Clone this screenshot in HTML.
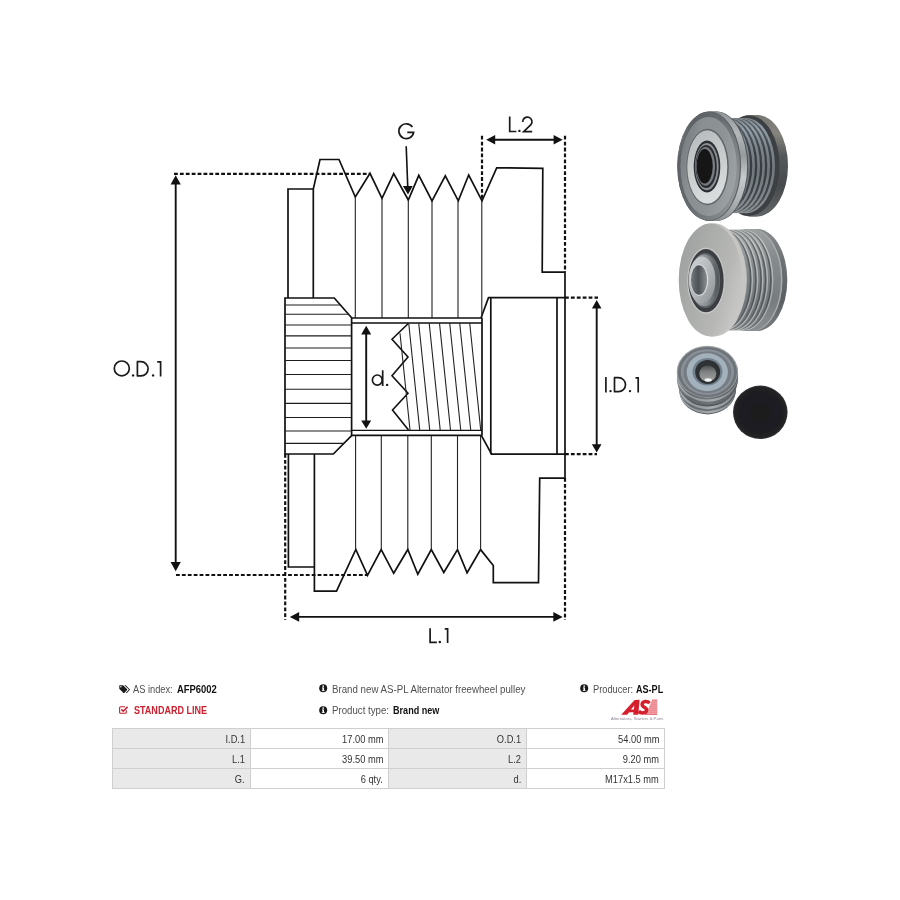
<!DOCTYPE html>
<html><head><meta charset="utf-8">
<style>
html,body{margin:0;padding:0;background:#fff;}
body{width:900px;height:900px;position:relative;overflow:hidden;font-family:"Liberation Sans",sans-serif;}
#draw{position:absolute;left:0;top:0;}
.t{position:absolute;white-space:nowrap;font-size:10px;line-height:12px;color:#3a3a3a;}
.t b{color:#111;font-weight:bold;}
table{position:absolute;left:112px;top:728px;border-collapse:collapse;font-size:10px;color:#333;}
td{border:1px solid #cfcfcf;height:17px;padding:2px 5px 0 0;text-align:right;width:132px;box-sizing:content-box;}
td.l{background:#e9e9e9;}
td span{display:inline-block;transform:scaleX(0.93);transform-origin:100% 50%;}
</style></head><body>
<svg id="draw" width="900" height="900" viewBox="0 0 900 900">
<!--DRAWING-->
<g fill="none" stroke="#111" stroke-width="1.7" stroke-linejoin="miter" stroke-linecap="butt">
<!-- outer silhouette -->
<path d="M313.3,298 L313.3,189 L320,159.5 L339,159.5 L355.3,197 L370,173.3 L382,198.3 L393.7,173.7 L408.3,200 L418.8,175.3 L432,200.8 L445.3,175.8 L458.3,200.8 L468.7,175 L482,200.8 L496.7,167.8 L542.8,168.3 L542.2,272.2 L565,272.2 L565,478.2 L539.7,478.2 L538.5,582.6 L493.3,582.6 L493.3,565.5 L480.6,549.6 L467.1,572.8 L457.5,549.6 L443.8,572.5 L431.3,549.5 L417.8,574.2 L407.8,549.5 L393.7,573.3 L381.2,549.5 L367.5,575.3 L355.8,549.5 L336.5,591.2 L314.4,591.2 L314.4,454"/>
<!-- left disc -->
<path d="M288,298 L288,189 L313.3,189"/>
<path d="M288.4,454 L288.4,567 L314.4,567"/>
<!-- hub -->
<path d="M285,298 L334.3,298 L351.6,317.7 L351.6,435.6 L333.3,454 L285,454 Z"/>
<!-- bore -->
<path d="M351.6,318 L481,318 L488.5,297.7 L565,297.7"/>
<path d="M351.6,435.4 L481.3,435.4 L491.6,454.2 L565,454.2"/>
<path d="M482,318 L482,435.4"/>
<path d="M490.8,297.7 L490.8,454.2"/>
<path d="M557,297.7 L557,454.2"/>
</g>
<g fill="none" stroke="#111" stroke-width="1.3">
<path d="M351.6,323 L482,323 M351.6,430.4 L482,430.4"/>
<!-- hub lines -->
<path stroke-width="1.15" stroke="#1c1c1c" d="M285,305 H340.4 M285,314.2 H348.5 M285,325 H351.6 M285,335.8 H351.6 M285,348 H351.6 M285,360.5 H351.6 M285,374.5 H351.6 M285,389.2 H351.6 M285,403.3 H351.6 M285,417.5 H351.6 M285,431 H351.6 M285,443.3 H344"/>
<!-- thread zigzag -->
<path stroke-width="1.6" d="M408.3,323.5 L392,339.2 L408,357 L392,375.8 L408,393.3 L392.5,410 L408.5,430"/>
</g>
<g fill="none" stroke="#222" stroke-width="1.1">
<!-- groove thin lines -->
<path d="M355.3,197 V318 M382,198.3 V318 M408.3,200 V318 M432,200.8 V318 M458,200.8 V318 M481.8,200.8 V318"/>
<path d="M355.6,435.4 V549.5 M381.3,435.4 V549.5 M407.8,435.4 V549.5 M431.3,435.4 V549.5 M457.5,435.4 V549.5 M480.6,435.4 V549.5"/>
<!-- thread slanted lines -->
<path d="M400,333.3 L410,430 M408.7,323 L419.7,430 M418.7,323 L429.7,430 M429.2,323 L440.2,430 M439.5,323 L450.5,430 M449.7,323 L460.7,430 M459.7,323 L470.7,430 M469.7,323 L480.7,430"/>
</g>
<!-- dimension lines -->
<g fill="none" stroke="#111" stroke-width="2.2" stroke-dasharray="3.8 2.1">
<path d="M174,173.8 H370"/>
<path d="M176,575 H367.5"/>
<path d="M285.2,454 V620"/>
<path d="M565,478 V620"/>
<path d="M482,135.8 V200"/>
<path d="M565,135.8 V272"/>
<path d="M565,297.7 H598"/>
<path d="M565,454.2 H597"/>
</g>
<g fill="none" stroke="#111" stroke-width="1.9">
<path d="M175.7,180 V566"/>
<path d="M596.7,304 V448"/>
<path d="M366.2,330 V424"/>
<path d="M292,616.9 H558"/>
<path d="M490,139.7 H558"/>
<path stroke-width="1.6" d="M406.2,146.3 L407.8,188"/>
</g>
<g fill="#111" stroke="none">
<path d="M175.7,175.3 L170.6,184.5 H180.8 Z"/>
<path d="M175.7,571.3 L170.6,562 H180.8 Z"/>
<path d="M596.7,300 L591.9,308.6 H601.5 Z"/>
<path d="M596.7,452.5 L591.9,444.2 H601.5 Z"/>
<path d="M366.2,325.8 L361.2,334.4 H371.2 Z"/>
<path d="M366.2,428.8 L361.2,420.4 H371.2 Z"/>
<path d="M289.8,616.9 L299.2,612 V621.8 Z"/>
<path d="M562.7,616.9 L553.3,612 V621.8 Z"/>
<path d="M486.2,139.7 L495.2,135 V144.4 Z"/>
<path d="M562.6,139.7 L553.6,135 V144.4 Z"/>
<path d="M408,194.4 L402.9,185.9 H412.7 Z"/>
</g>
<g fill="none" stroke="#1a1a1a" stroke-width="1.7" stroke-linecap="butt" stroke-linejoin="miter">
<!-- O.D.1 -->
<ellipse cx="121.8" cy="368.4" rx="7.5" ry="7.4"/>
<path d="M137.4,361.7 V375.9 M136.7,361.7 H141 A7.1,7.1 0 0 1 141,375.9 H136.7"/>
<path d="M157.2,361.9 H160.6 V376.6"/>
<!-- I.D.1 -->
<path d="M605.9,377 V392.4"/>
<path d="M614.5,377.7 V391.7 M613.8,377.7 H618.5 A7,7 0 0 1 618.5,391.7 H613.8"/>
<path d="M635.5,377.8 H638.2 V392.4"/>
<!-- L.1 -->
<path d="M430.1,628.2 V642.3 H436.9"/>
<path d="M444.7,628.9 H447.6 V643"/>
<!-- L.2 -->
<path d="M509.7,116.6 V131.5 H516.4"/>
<path d="M522.7,122 A4.65,4.65 0 1 1 530.9,124.7 L523.7,131.6 H532.2"/>
<!-- G -->
<path d="M412.4,127 A7.4,7.4 0 1 0 413.6,132.3 H407.3"/>
<!-- d. -->
<ellipse cx="377.3" cy="380.1" rx="4.9" ry="5.1"/>
<path d="M382.7,370.3 V386"/>
</g>
<g fill="#1a1a1a" stroke="none">
<circle cx="133.1" cy="375.4" r="1.2"/><circle cx="153.1" cy="375.4" r="1.2"/>
<circle cx="610.5" cy="391.1" r="1.2"/><circle cx="630" cy="391.1" r="1.2"/>
<circle cx="439.8" cy="641.9" r="1.25"/>
<circle cx="519.4" cy="130.9" r="1.2"/>
<circle cx="387.1" cy="384.9" r="1.2"/>
</g>
<!--LABELS-->
<!--PHOTOS_START-->
<defs>
<linearGradient id="v1" x1="0" y1="0" x2="0" y2="1"><stop offset="0" stop-color="#4b5056"/><stop offset="0.15" stop-color="#50575d"/><stop offset="0.35" stop-color="#3c4145"/><stop offset="0.6" stop-color="#373b3f"/><stop offset="0.85" stop-color="#40454a"/><stop offset="1" stop-color="#555a5e"/></linearGradient>
<linearGradient id="v1l" x1="0" y1="0" x2="0" y2="1"><stop offset="0" stop-color="#7f868b"/><stop offset="0.12" stop-color="#93a0a9"/><stop offset="0.3" stop-color="#7e878e"/><stop offset="0.55" stop-color="#70777d"/><stop offset="0.8" stop-color="#7d8489"/><stop offset="1" stop-color="#8d9296"/></linearGradient>
<linearGradient id="rear1" x1="0" y1="0" x2="0" y2="1"><stop offset="0" stop-color="#777774"/><stop offset="0.18" stop-color="#85837d"/><stop offset="0.4" stop-color="#55585a"/><stop offset="0.7" stop-color="#474a4d"/><stop offset="1" stop-color="#636668"/></linearGradient>
<linearGradient id="ff1" x1="0" y1="0.2" x2="1" y2="0.8"><stop offset="0" stop-color="#8e9295"/><stop offset="0.12" stop-color="#5d6165"/><stop offset="0.45" stop-color="#666b6f"/><stop offset="0.8" stop-color="#7f8487"/><stop offset="1" stop-color="#9a9ea1"/></linearGradient>
<linearGradient id="fb1" x1="0" y1="0" x2="0" y2="1"><stop offset="0" stop-color="#8f9497"/><stop offset="0.2" stop-color="#b4b8bb"/><stop offset="0.4" stop-color="#959a9d"/><stop offset="0.6" stop-color="#c6cacc"/><stop offset="0.8" stop-color="#b0b5b8"/><stop offset="1" stop-color="#8c9093"/></linearGradient>
<linearGradient id="cone1" x1="0" y1="0.3" x2="1" y2="0.7"><stop offset="0" stop-color="#777c80"/><stop offset="0.25" stop-color="#8a8f92"/><stop offset="0.6" stop-color="#8d9295"/><stop offset="1" stop-color="#9ea3a6"/></linearGradient>
<linearGradient id="ring1" x1="0" y1="0" x2="0.3" y2="1"><stop offset="0" stop-color="#b6babc"/><stop offset="0.5" stop-color="#c7cacb"/><stop offset="1" stop-color="#d9dcdc"/></linearGradient>
<linearGradient id="v2" x1="0" y1="0" x2="0" y2="1"><stop offset="0" stop-color="#9a9e9f"/><stop offset="0.12" stop-color="#a3a7a8"/><stop offset="0.35" stop-color="#858a8c"/><stop offset="0.6" stop-color="#767b7e"/><stop offset="0.85" stop-color="#70757a"/><stop offset="1" stop-color="#8a8e90"/></linearGradient>
<linearGradient id="v2d" x1="0" y1="0" x2="0" y2="1"><stop offset="0" stop-color="#75797b"/><stop offset="0.3" stop-color="#595e61"/><stop offset="0.7" stop-color="#4f5457"/><stop offset="1" stop-color="#686c6f"/></linearGradient>
<linearGradient id="rear2" x1="0" y1="0" x2="0" y2="1"><stop offset="0" stop-color="#8b8e8f"/><stop offset="0.3" stop-color="#6e7275"/><stop offset="0.7" stop-color="#5b5f63"/><stop offset="1" stop-color="#7b7e80"/></linearGradient>
<linearGradient id="rear2b" x1="0" y1="0" x2="0" y2="1"><stop offset="0" stop-color="#9da0a1"/><stop offset="0.3" stop-color="#858a8c"/><stop offset="0.7" stop-color="#777c7f"/><stop offset="1" stop-color="#8a8e90"/></linearGradient>
<linearGradient id="v2l" x1="0" y1="0" x2="0" y2="1"><stop offset="0" stop-color="#b5b8b8"/><stop offset="0.15" stop-color="#c4c6c5"/><stop offset="0.45" stop-color="#b4b8b9"/><stop offset="0.7" stop-color="#a4a8aa"/><stop offset="1" stop-color="#b3b6b6"/></linearGradient>
<linearGradient id="face2" x1="0" y1="0" x2="1" y2="0.5"><stop offset="0" stop-color="#9a9d9c"/><stop offset="0.45" stop-color="#abadab"/><stop offset="0.8" stop-color="#b7b8b6"/><stop offset="1" stop-color="#c4c5c2"/></linearGradient>
<linearGradient id="hub2" x1="0" y1="0" x2="1" y2="1"><stop offset="0" stop-color="#d2d5d6"/><stop offset="0.5" stop-color="#b4b8bb"/><stop offset="1" stop-color="#8a8f93"/></linearGradient>
<linearGradient id="hubs2" x1="0" y1="0" x2="1" y2="0"><stop offset="0" stop-color="#b0b4b7"/><stop offset="0.6" stop-color="#8a8f93"/><stop offset="1" stop-color="#4e5357"/></linearGradient>
<linearGradient id="hole2" x1="0" y1="0" x2="1" y2="0"><stop offset="0" stop-color="#767b7f"/><stop offset="0.45" stop-color="#4c5155"/><stop offset="1" stop-color="#8a8f93"/></linearGradient>
<linearGradient id="b3" x1="0" y1="0" x2="1" y2="0"><stop offset="0" stop-color="#868b8f"/><stop offset="0.2" stop-color="#5f6468"/><stop offset="0.55" stop-color="#70757a"/><stop offset="1" stop-color="#55595d"/></linearGradient>
<linearGradient id="b3l" x1="0" y1="0" x2="1" y2="0"><stop offset="0" stop-color="#b4b8bb"/><stop offset="0.25" stop-color="#8f9499"/><stop offset="0.6" stop-color="#a9aeb2"/><stop offset="1" stop-color="#7b8084"/></linearGradient>
<linearGradient id="hole3" x1="0" y1="0" x2="0" y2="1"><stop offset="0" stop-color="#4c4f51"/><stop offset="0.4" stop-color="#7f8282"/><stop offset="1" stop-color="#a3a5a4"/></linearGradient>
<radialGradient id="cap" cx="0.5" cy="0.5" r="0.5"><stop offset="0" stop-color="#1b1b1d"/><stop offset="0.93" stop-color="#202023"/><stop offset="1" stop-color="#38383c"/></radialGradient>
<filter id="soft" x="-5%" y="-5%" width="110%" height="110%"><feGaussianBlur stdDeviation="0.45"/></filter>
</defs>
<g id="ph1" filter="url(#soft)">
<ellipse cx="757" cy="165.7" rx="31" ry="50.7" fill="url(#rear1)" />
<ellipse cx="755.5" cy="165.7" rx="31" ry="50.7" fill="url(#rear1)" />
<ellipse cx="754" cy="165.7" rx="31" ry="50.7" fill="url(#rear1)" />
<ellipse cx="752.5" cy="165.7" rx="31" ry="50.7" fill="url(#rear1)" />
<ellipse cx="751" cy="165.7" rx="31" ry="50.7" fill="url(#rear1)" />
<ellipse cx="749.5" cy="165.7" rx="31" ry="50.7" fill="url(#rear1)" />
<ellipse cx="749" cy="165.7" rx="30.6" ry="50.2" fill="#3d4043" />
<ellipse cx="746" cy="165.6" rx="29" ry="47.6" fill="url(#v1l)" />
<ellipse cx="743.7" cy="165.6" rx="28.6" ry="47.0" fill="url(#v1)" />
<ellipse cx="741" cy="165.6" rx="29" ry="47.6" fill="url(#v1l)" />
<ellipse cx="738.7" cy="165.6" rx="28.6" ry="47.0" fill="url(#v1)" />
<ellipse cx="736" cy="165.6" rx="29" ry="47.6" fill="url(#v1l)" />
<ellipse cx="733.7" cy="165.6" rx="28.6" ry="47.0" fill="url(#v1)" />
<ellipse cx="731" cy="165.6" rx="29" ry="47.6" fill="url(#v1l)" />
<ellipse cx="728.7" cy="165.6" rx="28.6" ry="47.0" fill="url(#v1)" />
<ellipse cx="726" cy="165.6" rx="29" ry="47.6" fill="url(#v1l)" />
<ellipse cx="723.7" cy="165.6" rx="28.6" ry="47.0" fill="url(#v1)" />
<ellipse cx="721" cy="165.6" rx="29" ry="47.6" fill="url(#v1l)" />
<ellipse cx="718.7" cy="165.6" rx="28.6" ry="47.0" fill="url(#v1)" />
<ellipse cx="716" cy="165.6" rx="29" ry="47.6" fill="url(#v1l)" />
<ellipse cx="713.7" cy="165.6" rx="28.6" ry="47.0" fill="url(#v1)" />
<ellipse cx="711" cy="165.6" rx="29" ry="47.6" fill="url(#v1l)" />
<ellipse cx="708.7" cy="165.6" rx="28.6" ry="47.0" fill="url(#v1)" />
<ellipse cx="716.4" cy="166.3" rx="31.8" ry="54.7" fill="#4d5154" />
<ellipse cx="715.4" cy="166.3" rx="31.8" ry="54.7" fill="url(#fb1)" />
<ellipse cx="714" cy="166.3" rx="31.8" ry="54.7" fill="url(#fb1)" />
<ellipse cx="712.5" cy="166.3" rx="31.8" ry="54.7" fill="url(#fb1)" />
<ellipse cx="711" cy="166.3" rx="31.8" ry="54.7" fill="url(#fb1)" />
<ellipse cx="709.8" cy="166.3" rx="31.8" ry="54.7" fill="url(#fb1)" />
<ellipse cx="709.2" cy="166.3" rx="31.9" ry="54.7" fill="#5c6064" />
<ellipse cx="708.6" cy="166.3" rx="31.3" ry="54.2" fill="url(#ff1)" />
<ellipse cx="708.6" cy="166.5" rx="28.2" ry="49.5" fill="url(#cone1)" />
<ellipse cx="707.6" cy="167" rx="21.2" ry="38.2" fill="#5f6468" />
<ellipse cx="707.3" cy="167" rx="20" ry="36.7" fill="url(#ring1)" />
<ellipse cx="707" cy="166.6" rx="13.3" ry="26" fill="#2b2d30" />
<ellipse cx="706.8" cy="166.6" rx="11.8" ry="23.6" fill="#8b9095" />
<ellipse cx="706.2" cy="166.5" rx="10.6" ry="21.6" fill="#2a2c2f" />
<ellipse cx="705.6" cy="166.4" rx="9.4" ry="19.4" fill="#767b80" />
<ellipse cx="704.7" cy="166.3" rx="8" ry="17.3" fill="#141517" />
</g>
<g id="ph2" filter="url(#soft)">
<ellipse cx="757.3" cy="280" rx="30" ry="51" fill="url(#rear2)" />
<ellipse cx="756" cy="280" rx="30" ry="51" fill="url(#rear2)" />
<ellipse cx="754.5" cy="280" rx="30" ry="51" fill="url(#rear2)" />
<ellipse cx="753.5" cy="280" rx="30" ry="51" fill="url(#rear2)" />
<ellipse cx="752.5" cy="280" rx="30" ry="51" fill="#a9adae" />
<ellipse cx="751" cy="280" rx="30" ry="51" fill="url(#rear2b)" />
<ellipse cx="749.5" cy="280" rx="30" ry="51" fill="url(#rear2b)" />
<ellipse cx="748" cy="280" rx="30" ry="51" fill="url(#rear2b)" />
<ellipse cx="746.5" cy="280" rx="30" ry="51" fill="url(#rear2b)" />
<ellipse cx="743.8" cy="280" rx="29.6" ry="50.6" fill="url(#v2l)" />
<ellipse cx="742.5" cy="280" rx="29.4" ry="50.1" fill="url(#v2d)" />
<ellipse cx="740.6999999999999" cy="280" rx="29.5" ry="50.3" fill="url(#v2)" />
<ellipse cx="738.5" cy="280" rx="29.6" ry="50.6" fill="url(#v2l)" />
<ellipse cx="737.2" cy="280" rx="29.4" ry="50.1" fill="url(#v2d)" />
<ellipse cx="735.4" cy="280" rx="29.5" ry="50.3" fill="url(#v2)" />
<ellipse cx="733.9" cy="280" rx="29.6" ry="50.6" fill="url(#v2l)" />
<ellipse cx="732.6" cy="280" rx="29.4" ry="50.1" fill="url(#v2d)" />
<ellipse cx="730.8" cy="280" rx="29.5" ry="50.3" fill="url(#v2)" />
<ellipse cx="728.7" cy="280" rx="29.6" ry="50.6" fill="url(#v2l)" />
<ellipse cx="727.4000000000001" cy="280" rx="29.4" ry="50.1" fill="url(#v2d)" />
<ellipse cx="725.6" cy="280" rx="29.5" ry="50.3" fill="url(#v2)" />
<ellipse cx="723.5" cy="280" rx="29.6" ry="50.6" fill="url(#v2l)" />
<ellipse cx="722.2" cy="280" rx="29.4" ry="50.1" fill="url(#v2d)" />
<ellipse cx="720.4" cy="280" rx="29.5" ry="50.3" fill="url(#v2)" />
<ellipse cx="717.5" cy="280" rx="29.6" ry="50.6" fill="url(#v2l)" />
<ellipse cx="716.2" cy="280" rx="29.4" ry="50.1" fill="url(#v2d)" />
<ellipse cx="714.4" cy="280" rx="29.5" ry="50.3" fill="url(#v2)" />
<ellipse cx="714.5" cy="280" rx="31.8" ry="56.4" fill="#c6c7c4" />
<ellipse cx="713" cy="280" rx="31.8" ry="56.4" fill="#c6c7c4" />
<ellipse cx="711.5" cy="280" rx="31.8" ry="56.4" fill="#c6c7c4" />
<ellipse cx="710.5" cy="280" rx="31.8" ry="56.4" fill="url(#face2)" />
<ellipse cx="706" cy="280.7" rx="18.8" ry="33.2" fill="#c6c8c8" />
<ellipse cx="706" cy="280.7" rx="17.7" ry="31.6" fill="#3a3d40" />
<ellipse cx="705" cy="280.5" rx="15.2" ry="27.5" fill="#63686c" />
<ellipse cx="704.2" cy="280.3" rx="14.7" ry="25.8" fill="url(#hubs2)" />
<ellipse cx="702" cy="280" rx="13.4" ry="23.4" fill="url(#hub2)" />
<ellipse cx="699.3" cy="280" rx="9.0" ry="15.8" fill="#dadcdd" />
<ellipse cx="699" cy="280" rx="8.1" ry="14.7" fill="url(#hole2)" />
</g>
<g id="ph3" filter="url(#soft)">
<ellipse cx="707.5" cy="391" rx="28" ry="23.4" fill="#5d6266" />
<ellipse cx="707.5" cy="389.6" rx="28.6" ry="23.8" fill="url(#b3l)" />
<ellipse cx="707.5" cy="387.2" rx="28.8" ry="24" fill="url(#b3)" />
<ellipse cx="707.5" cy="385.2" rx="28.6" ry="24" fill="url(#b3l)" />
<ellipse cx="707.5" cy="383.2" rx="27.6" ry="23.4" fill="#474c50" />
<ellipse cx="707.5" cy="380.2" rx="30.2" ry="25.6" fill="#5f6468" />
<ellipse cx="707.5" cy="378.2" rx="30.6" ry="26" fill="url(#b3)" />
<ellipse cx="707.5" cy="375.8" rx="30.6" ry="26" fill="url(#b3l)" />
<ellipse cx="707.5" cy="373.6" rx="30.6" ry="26" fill="url(#b3)" />
<ellipse cx="707.4" cy="371.8" rx="30.6" ry="26" fill="#9ea3a7" />
<ellipse cx="707.4" cy="372.0" rx="29.6" ry="25.1" fill="#6d7378" />
<ellipse cx="707.4" cy="372.1" rx="26.6" ry="22.8" fill="#8a9198" />
<ellipse cx="707.4" cy="372.2" rx="24.0" ry="21.0" fill="#757c83" />
<ellipse cx="707.3" cy="372.2" rx="20.6" ry="19.0" fill="#a3b1bc" />
<ellipse cx="707.5" cy="371.8" rx="15.0" ry="13.7" fill="#71808b" />
<ellipse cx="707.7" cy="372.0" rx="12.5" ry="12.0" fill="#2d3135" />
<ellipse cx="707.8" cy="373.6" rx="8.5" ry="8.1" fill="url(#hole3)" />
<ellipse cx="708.2" cy="380.0" rx="3.6" ry="1.7" fill="#f4f5f5" />
<ellipse cx="760.3" cy="412.3" rx="27.3" ry="26.7" fill="url(#cap)" />
</g>
<!--PHOTOS-->
</svg>
<svg style="position:absolute;left:118.6px;top:684.6px" width="12" height="9" viewBox="0 0 12 9"><path fill="#1a1a1a" d="M0.3,0.6 Q0.3,0.2 0.7,0.2 H3.6 Q4,0.2 4.4,0.6 L8.1,4.3 Q8.5,4.7 8.1,5.1 L5.3,7.9 Q4.9,8.3 4.5,7.9 L0.7,4.2 Q0.3,3.8 0.3,3.4 Z M1.9,1.1 A0.75,0.75 0 1 0 1.9,2.6 A0.75,0.75 0 1 0 1.9,1.1 Z"/><path fill="#1a1a1a" d="M5.3,0.2 H6.2 Q6.6,0.2 7,0.6 L10.7,4.3 Q11.1,4.7 10.7,5.1 L7.9,7.9 Q7.5,8.3 7.1,7.9 L6.9,7.7 L9.6,5.1 Q10,4.7 9.6,4.3 Z"/></svg>
<svg style="position:absolute;left:119px;top:706.2px" width="10" height="8" viewBox="0 0 10 8"><path fill="none" stroke="#cd1f2d" stroke-width="1.1" d="M7.3,4.3 V6.2 Q7.3,7.2 6.3,7.2 H1.6 Q0.6,7.2 0.6,6.2 V1.8 Q0.6,0.8 1.6,0.8 H6"/><path fill="none" stroke="#cd1f2d" stroke-width="1.5" d="M2.4,3.4 L4.2,5.2 L8.6,0.9"/></svg>
<svg class="info" style="position:absolute;left:318.6px;top:684.4px" width="9" height="9" viewBox="0 0 9 9"><circle cx="4.2" cy="4.2" r="4" fill="#1a1a1a"/><rect x="3.5" y="3.5" width="1.5" height="3.2" fill="#fff"/><rect x="3" y="3.5" width="1.2" height="0.8" fill="#fff"/><rect x="2.9" y="6" width="2.7" height="0.8" fill="#fff"/><circle cx="4.2" cy="2.1" r="0.85" fill="#fff"/></svg>
<svg class="info" style="position:absolute;left:318.6px;top:706px" width="9" height="9" viewBox="0 0 9 9"><circle cx="4.2" cy="4.2" r="4" fill="#1a1a1a"/><rect x="3.5" y="3.5" width="1.5" height="3.2" fill="#fff"/><rect x="3" y="3.5" width="1.2" height="0.8" fill="#fff"/><rect x="2.9" y="6" width="2.7" height="0.8" fill="#fff"/><circle cx="4.2" cy="2.1" r="0.85" fill="#fff"/></svg>
<svg class="info" style="position:absolute;left:580.2px;top:684.4px" width="9" height="9" viewBox="0 0 9 9"><circle cx="4.2" cy="4.2" r="4" fill="#1a1a1a"/><rect x="3.5" y="3.5" width="1.5" height="3.2" fill="#fff"/><rect x="3" y="3.5" width="1.2" height="0.8" fill="#fff"/><rect x="2.9" y="6" width="2.7" height="0.8" fill="#fff"/><circle cx="4.2" cy="2.1" r="0.85" fill="#fff"/></svg>
<div class="t" style="left:133.3px;top:683.8px;color:#505050;transform:scaleX(0.9273);transform-origin:0 0;">AS index:</div>
<div class="t" style="left:176.9px;top:683.8px;color:#111;font-weight:bold;transform:scaleX(0.9420);transform-origin:0 0;">AFP6002</div>
<div class="t" style="left:133.7px;top:705.2px;color:#cd1f2d;font-weight:bold;transform:scaleX(0.9019);transform-origin:0 0;">STANDARD LINE</div>
<div class="t" style="left:332px;top:683.8px;color:#505050;transform:scaleX(0.9709);transform-origin:0 0;">Brand new AS-PL Alternator freewheel pulley</div>
<div class="t" style="left:332px;top:704.9px;color:#505050;transform:scaleX(0.9674);transform-origin:0 0;">Product type:</div>
<div class="t" style="left:392.7px;top:704.9px;color:#111;font-weight:bold;transform:scaleX(0.9076);transform-origin:0 0;">Brand new</div>
<div class="t" style="left:593.1px;top:683.8px;color:#505050;transform:scaleX(0.9271);transform-origin:0 0;">Producer:</div>
<div class="t" style="left:636.1px;top:683.8px;color:#111;font-weight:bold;transform:scaleX(0.9067);transform-origin:0 0;">AS-PL</div>
<svg style="position:absolute;left:616px;top:696px" width="50" height="28" viewBox="0 0 50 28">
<g fill="#e4525c">
<rect x="36" y="3.6" width="5.2" height="1.1"/><rect x="35.3" y="5.6" width="5.9" height="1.1"/><rect x="34.6" y="7.6" width="6.6" height="1.1"/><rect x="33.9" y="9.6" width="7.3" height="1.1"/><rect x="33" y="11.6" width="8.2" height="1.1"/><rect x="32" y="13.6" width="9.2" height="1.1"/><rect x="30.5" y="15.6" width="10.7" height="1.1"/><rect x="28.8" y="17.5" width="12.4" height="1.3"/>
</g>
<path fill="#ee8e94" d="M36,4.7 H41.2 V17.5 H30 Z" opacity="0.8"/>
<path fill="#d61f2c" fill-rule="evenodd" d="M5.2,18.8 L18.6,4 L23.6,3.8 L22.3,18.8 L17.2,18.8 L17.5,16.2 L13.3,16.2 L11,18.8 Z M18.3,9.6 L17.9,13.5 L14.9,13.5 Z"/>
<path fill="none" stroke="#d61f2c" stroke-width="3.5" stroke-linecap="butt" d="M33.6,7.2 C31.5,4.8 26.6,4.9 26.1,8.2 C25.7,11.4 30.9,10.9 30.6,14.1 C30.3,17.6 24.8,17.6 22.6,15.2"/>
</svg>
<div style="position:absolute;left:611.3px;top:716.6px;font-size:3.9px;line-height:4.5px;color:#8d8494;white-space:nowrap;letter-spacing:0.02px;transform:scaleX(1.07);transform-origin:0 0;" id="tag">Alternators, Starters &amp; Parts</div>
<table>
<tr><td class="l"><span>I.D.1</span></td><td><span>17.00 mm</span></td><td class="l"><span>O.D.1</span></td><td><span>54.00 mm</span></td></tr>
<tr><td class="l"><span>L.1</span></td><td><span>39.50 mm</span></td><td class="l"><span>L.2</span></td><td><span>9.20 mm</span></td></tr>
<tr><td class="l"><span>G.</span></td><td><span>6 qty.</span></td><td class="l"><span>d.</span></td><td><span>M17x1.5 mm</span></td></tr>
</table>
<!--TEXT-->
</body></html>
